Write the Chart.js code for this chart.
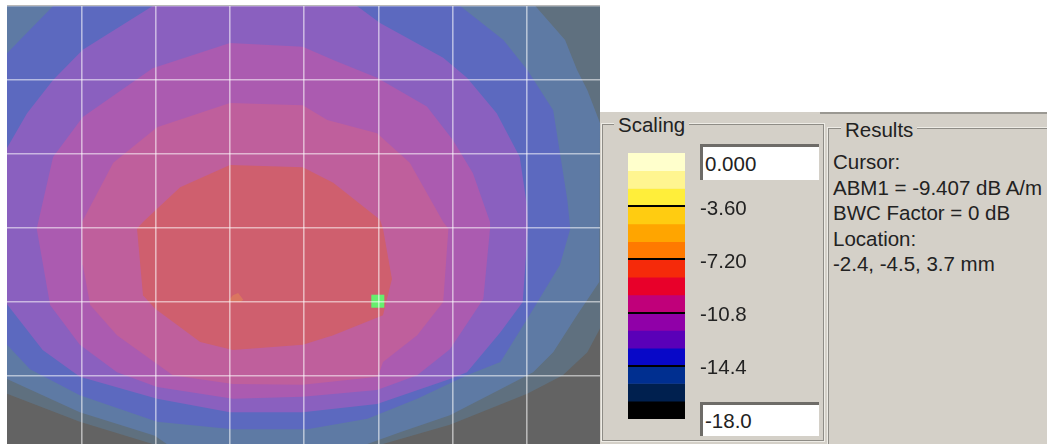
<!DOCTYPE html>
<html>
<head>
<meta charset="utf-8">
<title>Scaling</title>
<script src="https://cdn.jsdelivr.net/npm/chart.js@4"></script>
<style>
html, body { margin: 0; padding: 0; background: #fff; overflow: hidden; }
body { width: 1047px; height: 444px; position: relative; font: 20.5px "Liberation Sans", Arial, sans-serif; color: #222; }
#plotWrap { position: absolute; left: 7px; top: 5px; width: 593px; height: 439px; background: #636363; filter: blur(.5px); }
#panel { position: absolute; left: 600px; top: 112px; width: 447px; height: 332px; background: #d4d0c8; }
#scaleWrap { position: absolute; left: 628px; top: 153px; width: 147px; height: 266px; }
.group { position: absolute; border: 1px solid #8e8c86; outline: 1px solid #eeece6; outline-offset: 0; box-sizing: border-box; }
#scalingBox { left: 602px; top: 124px; width: 222px; height: 317px; }
#resultsBox { left: 828px; top: 128px; width: 240px; height: 330px; }
#topBar { position: absolute; left: 820px; top: 112px; width: 227px; height: 2px; background: #9a9892; }
.legend { position: absolute; background: #d4d0c8; padding: 0 4px; line-height: 24px; }
#scalingLabel { left: 614px; top: 113px; }
#resultsLabel { left: 841px; top: 118px; }
.field { position: absolute; left: 700px; width: 119px; background: #fff; box-sizing: border-box; border-top: 3px solid #6e6c68; border-left: 3px solid #6e6c68; padding-left: 2px; }
#fieldMax { top: 144px; height: 36px; line-height: 33px; }
#fieldMin { top: 402px; height: 34px; line-height: 31px; }
#resultsText { position: absolute; left: 833px; top: 149px; line-height: 25.5px; white-space: nowrap; }
canvas { display: block; }
</style>
</head>
<body>
<div id="plotWrap"><canvas id="contour"></canvas></div>
<div id="panel"></div>
<div id="topBar"></div>
<div class="group" id="scalingBox"></div>
<div class="group" id="resultsBox"></div>
<div class="legend" id="scalingLabel">Scaling</div>
<div class="legend" id="resultsLabel">Results</div>
<div id="scaleWrap"><canvas id="scale"></canvas></div>
<div class="field" id="fieldMax">0.000</div>
<div class="field" id="fieldMin">-18.0</div>
<div id="resultsText"></div>
<script>
// contour outlines, in grid cells from the top left corner
const bandSlate = [[0,0],[7.98,0],[7.98,4.36],[7.81,4.68],[7.48,4.99],[7,5.24],[5.96,5.66],[5.06,5.92],[1.96,5.92],[0.98,5.62],[0,5.24]];
const bandSteel = [[0,0],[7.11,0],[7.51,0.46],[7.67,0.86],[7.81,1.14],[7.98,1.58],[7.97,3.73],[7.67,4.18],[7.35,4.68],[7.08,4.95],[6.64,5.18],[5.96,5.53],[5.29,5.76],[4.85,5.92],[2.15,5.92],[1.99,5.81],[0.98,5.49],[0,5.04]];
const bandBlue = [[0,0.64],[0.62,0],[6.1,0],[6.68,0.46],[7,0.86],[7.35,1.41],[7.54,2.62],[7.58,3.01],[7.44,3.5],[7,4.23],[6.64,4.81],[6.19,4.99],[5.52,5.31],[4.85,5.58],[4.04,5.72],[3.04,5.72],[2.02,5.62],[0.98,5.26],[0.31,4.91],[0,4.58]];
const bandViolet = [[1.96,0],[4.71,0],[5.02,0.23],[5.87,0.7],[6.19,0.97],[6.59,1.45],[6.9,2.04],[7,2.72],[7.01,3.01],[6.94,4],[6.64,4.41],[6.19,4.95],[5.96,5.04],[4.98,5.38],[3.98,5.49],[3,5.49],[2.02,5.31],[0.98,5.01],[0.48,4.65],[0,4.03],[0,1.92],[0.27,1.45],[0.62,1],[1.02,0.59]];
const bandPurple = [[3,0.5],[3.98,0.55],[4.39,0.73],[4.98,0.97],[5.65,1.36],[6,1.81],[6.27,2.26],[6.5,2.92],[6.5,3.01],[6.41,3.96],[5.96,4.64],[5.52,4.99],[4.98,5.19],[3.98,5.28],[3.04,5.31],[2.02,5.15],[1.48,4.95],[0.98,4.58],[0.58,4.04],[0.4,3.01],[0.62,2.04],[1.02,1.5],[1.96,0.84]];
const bandPink = [[3,1.31],[3.98,1.34],[4.31,1.54],[4.98,1.72],[5.42,2.12],[5.87,2.92],[5.94,3.01],[5.87,4],[5.52,4.45],[5.06,4.81],[4.99,5.01],[3.98,5.12],[3.04,5.11],[2.23,4.99],[1.48,4.45],[1.12,4.04],[1.02,3.5],[1.01,2.92],[1.43,2.12],[2.02,1.64]];
const bandRed = [[3,2.15],[3.98,2.18],[4.39,2.39],[5.02,2.89],[5.06,3.01],[5.18,3.69],[5.06,4.18],[4.39,4.45],[3.98,4.58],[3.04,4.65],[2.6,4.54],[1.99,4.09],[1.83,3.91],[1.75,3.01],[1.83,2.92],[2.33,2.45]];
const bandPeak = [[2.97,3.99],[3.04,3.91],[3.11,3.88],[3.18,3.97],[3.14,4]];
const cursorPoint = [[4.99,3.99]];

const bands = [bandSlate, bandSteel, bandBlue, bandViolet, bandPurple, bandPink, bandRed, bandPeak];
const bandColors = ['#5f707f', '#5e7aa4', '#5c69bf', '#8a60bf', '#ab5bb0', '#bf5f9c', '#cf5f6e', '#da7560'];

// colour key, 15 steps of 1.2 dB from the top down
const scaleStep = [1.2];
const scaleColors = ['#ffffcc', '#fff590', '#ffee3a', '#ffcc11', '#ffa500', '#ff7a00', '#f52a0a', '#e8002a', '#c0007a', '#9000a8', '#5a00b8', '#0808c8', '#002f90', '#00204f', '#000000'];
const scaleTicks = [-3.6, -7.2, -10.8, -14.4];
const scaleTickLabels = ['-3.60', '-7.20', '-10.8', '-14.4'];

const resultLines = ['Cursor:', 'ABM1 = -9.407 dB A/m', 'BWC Factor = 0 dB', 'Location:', '-2.4, -4.5, 3.7 mm'];

document.getElementById('resultsText').innerHTML = resultLines.join('<br>');

const contourSets = bands.map(function (band, i) {
    return {
        data: band,
        showLine: true,
        fill: 'shape',
        backgroundColor: bandColors[i],
        borderWidth: 0,
        pointRadius: 0,
        order: bands.length - i
    };
});
contourSets.push({
    data: cursorPoint,
    pointStyle: 'rect',
    pointRadius: 9.2,
    backgroundColor: '#66f06e',
    borderWidth: 0,
    order: -1
});

new Chart(document.getElementById('contour'), {
    type: 'scatter',
    data: { datasets: contourSets },
    options: {
        responsive: true,
        maintainAspectRatio: false,
        animation: false,
        layout: { autoPadding: false, padding: { top: 1 } },
        scales: {
            x: {
                min: 0,
                max: 7.98,
                border: { display: false },
                grid: {
                    z: 1,
                    lineWidth: 1.6,
                    drawTicks: false,
                    color: function (c) { return c.tick && c.tick.value === 0 ? 'transparent' : 'rgba(255,255,255,0.55)'; }
                },
                ticks: { stepSize: 1, includeBounds: false, display: false }
            },
            y: {
                min: 0,
                max: 5.92,
                reverse: true,
                border: { display: false },
                grid: { z: 1, lineWidth: 1.6, drawTicks: false, color: 'rgba(255,255,255,0.55)' },
                ticks: { stepSize: 1, includeBounds: false, display: false }
            }
        },
        plugins: { legend: { display: false }, tooltip: { enabled: false } }
    }
});

new Chart(document.getElementById('scale'), {
    type: 'bar',
    data: {
        labels: ['dB'],
        datasets: scaleColors.map(function (color) {
            return { data: scaleStep.map(function (v) { return -v; }), backgroundColor: color, borderWidth: 0 };
        })
    },
    options: {
        responsive: true,
        maintainAspectRatio: false,
        animation: false,
        layout: { autoPadding: false },
        datasets: { bar: { categoryPercentage: 1, barPercentage: 1 } },
        scales: {
            x: { stacked: true, display: false },
            y: {
                stacked: true,
                position: 'right',
                min: -18,
                max: 0,
                afterBuildTicks: function (scale) {
                    scale.ticks = scaleTicks.map(function (v) { return { value: v }; });
                },
                afterFit: function (scale) {
                    scale.width = 90;
                    scale.paddingTop = 0;
                    scale.paddingBottom = 0;
                },
                border: { display: false },
                grid: { z: 1, color: '#000', lineWidth: 2, drawTicks: false },
                ticks: {
                    padding: 15,
                    labelOffset: 3,
                    color: '#222',
                    font: { family: '"Liberation Sans", Arial, sans-serif', size: 20.5 },
                    callback: function (v, i) { return scaleTickLabels[i]; }
                }
            }
        },
        plugins: { legend: { display: false }, tooltip: { enabled: false } }
    }
});
</script>
</body>
</html>
